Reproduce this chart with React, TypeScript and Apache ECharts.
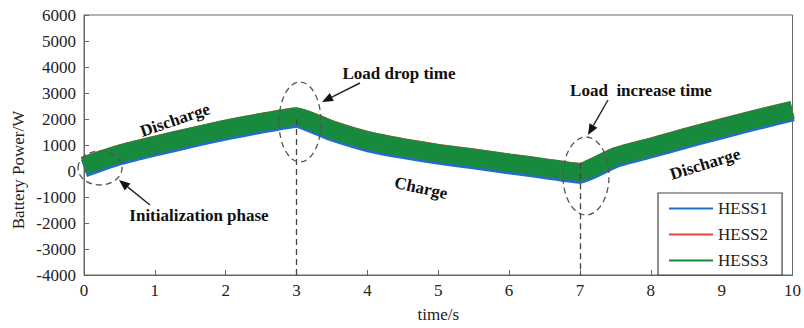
import React, { useEffect, useRef } from "react";
import * as echarts from "echarts";

const times = [0, 0.25, 0.5, 1, 1.5, 2, 2.5, 3, 3.5, 4, 4.5, 5, 5.5, 6, 6.5, 7, 7.5, 8, 8.5, 9, 9.5, 10];
const hess1 = [100, 340, 560, 900, 1220, 1520, 1780, 2000, 1490, 1080, 810, 590, 410, 220, 40, -140, 460, 830, 1210, 1570, 1920, 2250];
const hess2 = [210, 450, 670, 1010, 1330, 1630, 1890, 2110, 1600, 1190, 920, 700, 520, 330, 150, -30, 570, 940, 1320, 1680, 2030, 2360];
const hess3 = [200, 440, 660, 1000, 1320, 1620, 1880, 2100, 1590, 1180, 910, 690, 510, 320, 140, -40, 560, 930, 1310, 1670, 2020, 2350];
const seriesNames = ["HESS1", "HESS2", "HESS3"];
const seriesColors = ["#1f6fc8", "#e8453c", "#178a3e"];
const eventTimes = [3, 7];
const eventTops = [2000, 300];

const SERIF = "'Liberation Serif', 'Times New Roman', serif";

function arrow(x1: number, y1: number, x2: number, y2: number) {
  const dx = x2 - x1, dy = y2 - y1;
  const len = Math.hypot(dx, dy);
  const ux = dx / len, uy = dy / len;
  const hl = 11, hw = 4.5;
  const bx = x2 - hl * ux, by = y2 - hl * uy;
  const nx = -uy * hw, ny = ux * hw;
  return [
    { type: "line", shape: { x1, y1, x2: bx, y2: by }, style: { stroke: "#222", lineWidth: 1.4 }, z: 100 },
    { type: "polygon", shape: { points: [[x2, y2], [bx + nx, by + ny], [bx - nx, by - ny]] }, style: { fill: "#111" }, z: 100 },
  ];
}

function ellipse(cx: number, cy: number, rx: number, ry: number) {
  return {
    type: "ellipse",
    shape: { cx, cy, rx, ry },
    style: { fill: "none", stroke: "#555", lineWidth: 1.3, lineDash: [6, 4] },
    z: 100,
  };
}

function label(text: string, x: number, y: number, rotation = 0) {
  return {
    type: "text",
    x, y, rotation,
    style: { text, fill: "#111", font: `bold 17px ${SERIF}`, align: "center", verticalAlign: "middle" },
    z: 100,
  };
}

export default function App() {
  const ref = useRef<HTMLDivElement>(null);
  useEffect(() => {
    document.body.style.margin = "0";
    const chart = echarts.init(ref.current!, null, { renderer: "svg" });
    const all = [hess1, hess2, hess3];
    const series: any[] = all.map((vals, i) => ({
      name: seriesNames[i],
      type: "line",
      data: times.map((t, k) => [t, vals[k]]),
      symbol: "none",
      smooth: 0.15,
      lineStyle: { color: seriesColors[i], width: 18 },
      itemStyle: { color: seriesColors[i] },
      z: 2 + i,
    }));
    series[2].markLine = {
      silent: true,
      symbol: "none",
      label: { show: false },
      lineStyle: { color: "#444", type: [6, 4], width: 1.3 },
      data: eventTimes.map((t, i) => [{ coord: [t, eventTops[i]] }, { coord: [t, -4000] }]),
    };
    chart.setOption({
      animation: false,
      grid: { left: 84, right: 7, top: 15, bottom: 43, show: true, borderColor: "#666", borderWidth: 1 },
      legend: {
        data: seriesNames,
        orient: "vertical",
        left: 658,
        top: 193,
        icon: "rect",
        itemWidth: 44,
        itemHeight: 2,
        itemGap: 9,
        padding: [7, 14, 6, 11],
        borderColor: "#444",
        borderWidth: 1.2,
        backgroundColor: "#fff",
        textStyle: { fontFamily: SERIF, fontSize: 17, color: "#222" },
      },
      xAxis: {
        type: "value",
        min: 0,
        max: 10,
        interval: 1,
        name: "time/s",
        nameLocation: "middle",
        nameGap: 31,
        nameTextStyle: { fontFamily: SERIF, fontSize: 17, color: "#222" },
        axisLine: { onZero: false, lineStyle: { color: "#666" } },
        axisTick: { inside: true, length: 5, lineStyle: { color: "#666" } },
        axisLabel: { fontFamily: SERIF, fontSize: 17, color: "#222", margin: 7 },
        splitLine: { show: false },
      },
      yAxis: {
        type: "value",
        min: -4000,
        max: 6000,
        interval: 1000,
        axisLine: { show: true, lineStyle: { color: "#666" } },
        axisTick: { show: true, inside: true, length: 5, lineStyle: { color: "#666" } },
        axisLabel: { fontFamily: SERIF, fontSize: 17, color: "#222", margin: 8, formatter: (v: number) => String(v) },
        splitLine: { show: false },
      },
      series,
      graphic: [
        {
          type: "text",
          x: 18,
          y: 170,
          rotation: Math.PI / 2,
          style: { text: "Battery Power/W", fill: "#222", font: `17px ${SERIF}`, align: "center", verticalAlign: "middle" },
        },
        ellipse(100, 168, 22, 17),
        ellipse(300, 122, 21, 40),
        ellipse(586, 176, 23, 39),
        ...arrow(150, 205, 119, 180),
        ...arrow(360, 83, 322, 102),
        ...arrow(608, 100, 588, 135),
        label("Initialization phase", 199, 215),
        label("Load drop time", 399, 73),
        label("Load  increase time", 641, 90),
        label("Discharge", 175, 120, 0.33),
        label("Charge", 421, 188, -0.22),
        label("Discharge", 705, 164, 0.3),
      ],
    });
    return () => chart.dispose();
  }, []);
  return <div ref={ref} style={{ width: 804, height: 328 }} />;
}
